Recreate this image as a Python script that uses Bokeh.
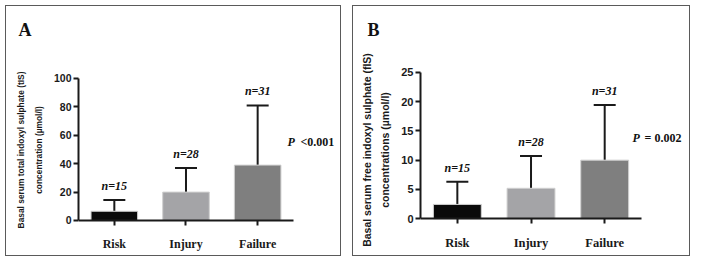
from bokeh.plotting import figure
from bokeh.models import (ColumnDataSource, Range1d, Whisker, TeeHead,
                          Label, FixedTicker, Title)
from bokeh.layouts import row
from bokeh.core.properties import value
from bokeh.embed import file_html
from bokeh.resources import INLINE

# ---------------- data ----------------
categories = ["Risk", "Injury", "Failure"]
n_labels = ["n=15", "n=28", "n=31"]
bar_colors = ["#0a0a0a", "#a4a4a7", "#7f7f7f"]

# Panel A: total indoxyl sulphate (tIS), µmol/l
tis_mean = [6.5, 20.0, 39.0]
tis_upper = [14.5, 37.0, 81.0]
tis_ticks = [0, 20, 40, 60, 80, 100]

# Panel B: free indoxyl sulphate (fIS), µmol/l
fis_mean = [2.45, 5.2, 10.0]
fis_upper = [6.3, 10.7, 19.4]
fis_ticks = [0, 5, 10, 15, 20, 25]

SANS = "Liberation Sans"
SERIF = "Liberation Serif"
INK = "#1a1a1a"


def panel(letter, ylabel, means, uppers, yr, ticks, pval, width, height,
          mb, xend, title_off, p_xy, p_off, margin, fs):
    pos = [i + 0.5 for i in range(len(categories))]
    p = figure(x_range=Range1d(0, xend), y_range=Range1d(*yr),
               width=width, height=height,
               output_backend="svg", toolbar_location=None,
               min_border_left=mb[0], min_border_right=mb[1],
               min_border_top=mb[2], min_border_bottom=mb[3])
    p.margin = margin
    p.styles = {"border": "1px solid #5a5a5a"}
    p.outline_line_color = None
    p.xgrid.visible = False
    p.ygrid.visible = False

    src = ColumnDataSource(dict(x=pos, mean=means, upper=uppers,
                                color=bar_colors, n=n_labels))
    p.vbar(x="x", top="mean", width=0.65, source=src, fill_color="color",
           line_color="#d0d0d0", line_width=1)
    w = Whisker(base="x", lower="mean", upper="upper", source=src,
                dimension="height", line_color=INK, line_width=2,
                upper_head=TeeHead(size=22, line_width=2, line_color=INK),
                lower_head=None)
    p.add_layout(w)
    p.text(x="x", y="upper", text="n", source=src, y_offset=-7,
           text_align="center", text_baseline="bottom",
           text_font=value(SERIF), text_font_style="bold italic",
           text_font_size="12px", text_color="#111111")

    # axes
    for ax in (p.xaxis[0], p.yaxis[0]):
        ax.axis_line_width = 2
        ax.axis_line_color = INK
        ax.major_tick_line_width = 2
        ax.major_tick_line_color = INK
        ax.major_tick_in = 0
        ax.major_tick_out = 5
        ax.minor_tick_line_color = None
    xa = p.xaxis[0]
    xa.fixed_location = 0
    xa.bounds = (0, len(categories))
    xa.ticker = FixedTicker(ticks=pos)
    xa.major_label_overrides = {x: c for x, c in zip(pos, categories)}
    xa.major_label_text_font = SERIF
    xa.major_label_text_font_style = "bold"
    xa.major_label_text_font_size = fs["cat"]
    xa.major_label_text_color = INK
    xa.major_label_standoff = 12

    ya = p.yaxis[0]
    ya.bounds = (ticks[0], ticks[-1])
    ya.ticker = FixedTicker(ticks=ticks)
    ya.major_label_text_font = SANS
    ya.major_label_text_font_style = "bold"
    ya.major_label_text_font_size = fs["tick"]
    ya.major_label_text_color = INK
    ya.major_label_standoff = 2
    ya.axis_label = ylabel
    ya.axis_label_text_font = SANS
    ya.axis_label_text_font_style = "bold"
    ya.axis_label_text_font_size = fs["label"]
    ya.axis_label_text_line_height = fs["lh"]
    ya.axis_label_text_color = INK
    ya.axis_label_standoff = 7

    p.add_layout(Title(text=letter, align="left", offset=title_off,
                       standoff=10, text_font=SERIF, text_font_style="bold",
                       text_font_size="18px", text_color="#111111"), "above")
    p.add_layout(Label(x=p_xy[0], y=p_xy[1], text="P", text_font=SERIF,
                       text_font_style="bold italic", text_font_size="12px",
                       text_color="#111111", text_baseline="middle"))
    p.add_layout(Label(x=p_xy[0], y=p_xy[1], text=pval, x_offset=p_off,
                       text_font=SERIF, text_font_style="bold",
                       text_font_size="12px", text_color="#111111",
                       text_baseline="middle"))
    return p


pA = panel("A", "Basal serum total indoxyl sulphate (tIS)\nconcentration (µmol/l)",
           tis_mean, tis_upper, (-24.65, 123.94), tis_ticks, "<0.001", 336, 251,
           (72, 2, 38, 2), 3.656, -60, (2.916, 55), 13, (5, 0, 0, 5),
           dict(cat="12px", tick="10.5px", label="8.4px", lh=1.75))
pB = panel("B", "Basal serum free indoxyl sulphate (fIS)\nconcentrations (µmol/l)",
           fis_mean, fis_upper, (-6.26, 29.72), fis_ticks, "= 0.002", 338, 251,
           (67, 2, 38, 2), 3.651, -53, (2.878, 13.86), 12, (5, 0, 0, 11),
           dict(cat="12.5px", tick="11px", label="10.5px", lh=1.5))

layout = row(pA, pB)
open("out.html", "w").write(file_html(layout, INLINE))
